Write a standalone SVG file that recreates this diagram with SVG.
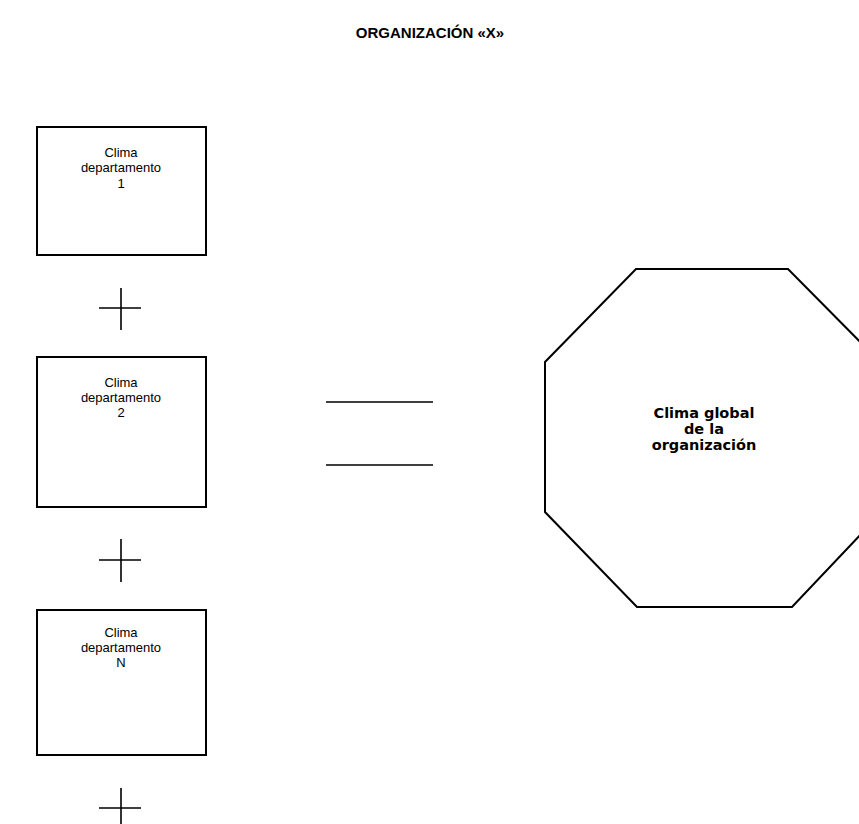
<svg xmlns="http://www.w3.org/2000/svg" width="859" height="824" viewBox="0 0 859 824">
<style>
.box{fill:#fff;stroke:#000;stroke-width:2}
.ln{stroke:#000;stroke-width:1.6;fill:none}
.t{font-family:"Liberation Sans",Arial,sans-serif;font-size:13px;text-anchor:middle;fill:#000}
.b{font-family:"DejaVu Sans","Liberation Sans",Arial,sans-serif;font-weight:bold;text-anchor:middle;fill:#000}
.title{font-family:"Liberation Sans",Arial,sans-serif;font-weight:bold;text-anchor:middle;fill:#000;font-size:15px}
</style>
<rect width="859" height="824" fill="#fff"/>
<text class="title" x="430" y="38">ORGANIZACIÓN «X»</text>
<g id="dept1">
<rect class="box" x="37" y="127" width="169" height="128"/>
<text class="t" x="121" y="157">Clima</text>
<text class="t" x="121" y="172">departamento</text>
<text class="t" x="121" y="188">1</text>
</g>
<g id="dept2">
<rect class="box" x="37" y="357" width="169" height="150"/>
<text class="t" x="121" y="387">Clima</text>
<text class="t" x="121" y="402">departamento</text>
<text class="t" x="121" y="417">2</text>
</g>
<g id="deptN">
<rect class="box" x="37" y="610" width="169" height="145"/>
<text class="t" x="121" y="637">Clima</text>
<text class="t" x="121" y="652">departamento</text>
<text class="t" x="121" y="667">N</text>
</g>
<g id="global">
<polygon class="box" points="636,269 788,269 880,362 880,514 792,607 637,607 545,512 545,362"/>
<text class="b" x="704" y="418" font-size="14.5">Clima global</text>
<text class="b" x="704" y="434" font-size="14.5">de la</text>
<text class="b" x="704" y="450" font-size="14.5">organización</text>
</g>
<g id="connectors">
<path class="ln" d="M121,288V330M99,308H141"/>
<path class="ln" d="M121,539V582M99,560H141"/>
<path class="ln" d="M121,788V824M99,808H141"/>
<path class="ln" d="M326,402H433M326,465H433"/>
</g>
</svg>
